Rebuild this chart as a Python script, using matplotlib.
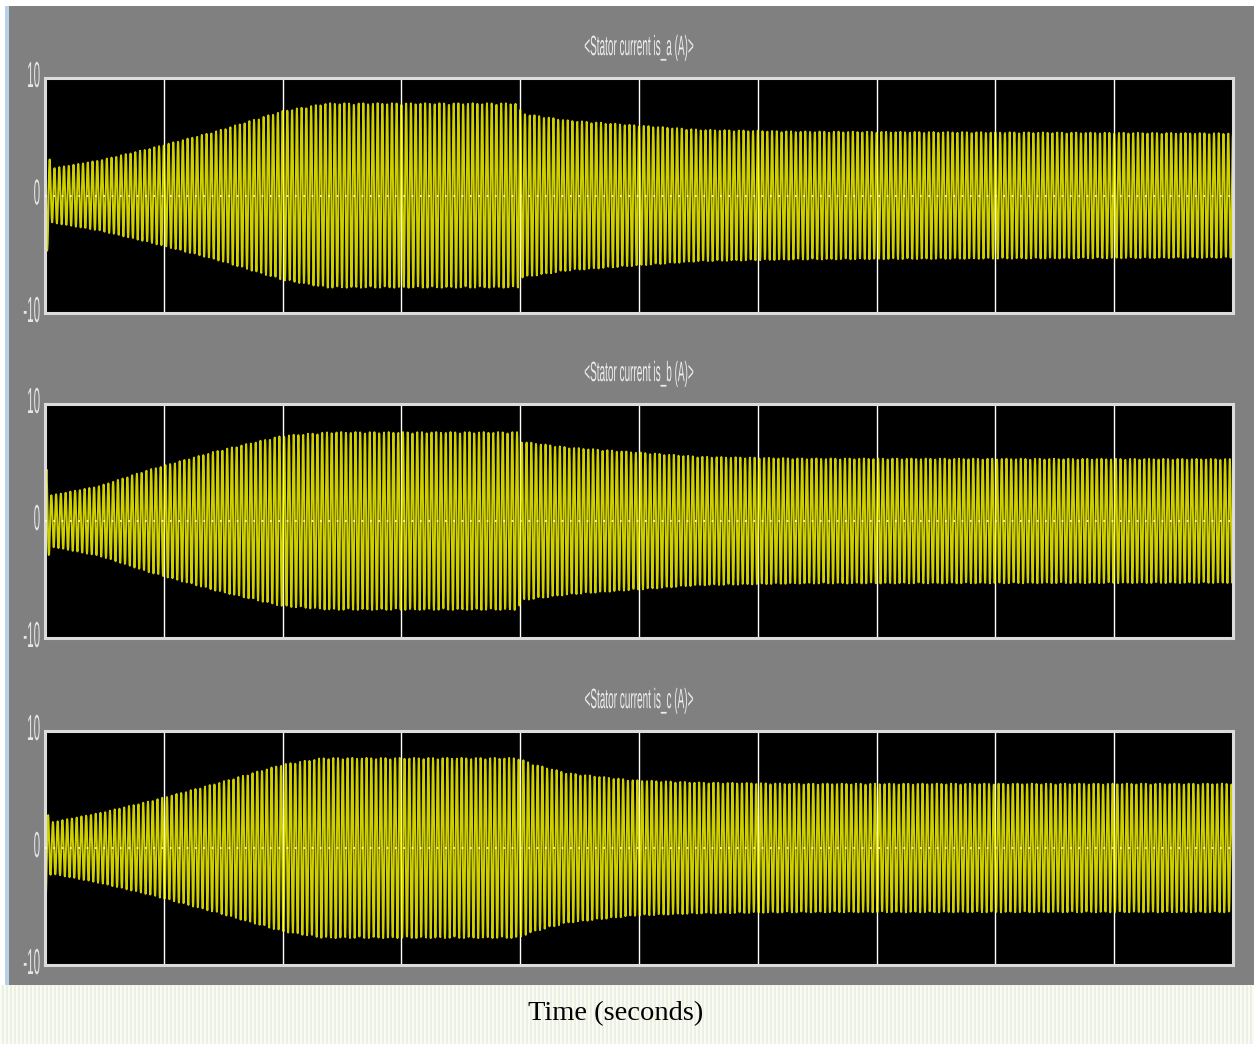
import matplotlib
matplotlib.use("Agg")
import matplotlib.pyplot as plt
import matplotlib.patheffects as pe
import numpy as np
from matplotlib.patches import Rectangle
from matplotlib.transforms import Affine2D

# Scope settings
T_END = 5.0
F_SUPPLY = 50.0
DT = 1 / (F_SUPPLY * 16.3)   # decimated scope samples

# Envelope of each stator current (s, A)
env_t_a = [0.0, 0.01, 0.025, 0.23, 0.44, 0.725, 1.0, 1.185, 1.99, 2.005, 2.2, 2.475, 2.755, 3.18, 5.0]
env_a = [9.5, 4.5, 2.3, 3.0, 4.0, 5.5, 7.2, 7.85, 7.85, 7.0, 6.4, 6.0, 5.6, 5.45, 5.3]

env_t_b = [0.0, 0.01, 0.025, 0.23, 0.44, 0.725, 1.0, 1.2, 1.99, 2.005, 2.2, 2.475, 2.755, 3.18, 5.0]
env_b = [6.0, 3.5, 2.2, 3.0, 4.4, 6.0, 7.3, 7.6, 7.6, 6.8, 6.3, 5.9, 5.5, 5.35, 5.3]

env_t_c = [0.0, 0.01, 0.025, 0.23, 0.44, 0.725, 1.0, 1.17, 1.99, 2.05, 2.2, 2.475, 2.755, 3.18, 5.0]
env_c = [5.0, 3.0, 2.2, 3.0, 4.0, 5.55, 7.15, 7.7, 7.7, 7.2, 6.4, 5.8, 5.6, 5.5, 5.5]

titles = ["<Stator current is_a (A)>", "<Stator current is_b (A)>", "<Stator current is_c (A)>"]
phases = [0.0, -2 * np.pi / 3, 2 * np.pi / 3]
y_ticks = [-10, 0, 10]
y_ticklabels = ["-10", "0", "10"]

SCOPE_FONT = "Liberation Sans"


class Stretch(pe.AbstractPathEffect):
    """Stretch glyphs vertically about their baseline (tall scope lettering)."""

    def __init__(self, sy):
        super().__init__()
        self.sy = sy

    def draw_path(self, renderer, gc, tpath, affine, rgbFace=None):
        renderer.draw_path(gc, tpath, Affine2D().scale(1, self.sy) + affine, rgbFace)


W, H = 1254, 1044
fig = plt.figure(figsize=(W / 100, H / 100), dpi=100)
fig.patch.set_facecolor("white")

# scope window background and left border
fig.patches.append(Rectangle((9 / W, (H - 985) / H), (W - 9) / W, 979 / H,
                             transform=fig.transFigure, facecolor="#808080",
                             edgecolor="none", zorder=-2))
fig.patches.append(Rectangle((5 / W, (H - 985) / H), 4 / W, 979 / H,
                             transform=fig.transFigure, facecolor="#b7d1ea",
                             edgecolor="none", zorder=-2))

# striped page strip under the scope
strip = fig.add_axes([0, 0, 1, (H - 985) / H])
cols = np.array([[0.984, 0.988, 0.968], [0.984, 0.988, 0.968],
                 [0.925, 0.945, 0.880], [0.925, 0.945, 0.880]])
stripes = np.tile(cols, (W // 4 + 1, 1))[:W]
strip.imshow(stripes[np.newaxis, :, :], aspect="auto", interpolation="nearest")
strip.set_axis_off()

t = np.arange(0, T_END + DT, DT)
envelopes = [(env_t_a, env_a), (env_t_b, env_b), (env_t_c, env_c)]
axes_px = [(78, 313), (404, 638), (731, 965)]

for (top, bottom), (et, ev), ph, title in zip(axes_px, envelopes, phases, titles):
    ax = fig.add_axes([45 / W, (H - bottom) / H, 1188 / W, (bottom - top) / H])
    ax.set_facecolor("black")

    amp = np.interp(t, et, ev)
    current = amp * np.cos(2 * np.pi * F_SUPPLY * t + ph)
    ax.plot(t, current, color="#ffff00", linewidth=1.4, alpha=0.82, zorder=2)

    ax.set_xlim(0, T_END)
    ax.set_ylim(-10, 10)
    ax.set_xticks(np.linspace(0, T_END, 11))
    ax.set_xticklabels([])
    ax.grid(axis="x", color="white", linewidth=1.0, zorder=1)
    ax.axhline(0, color="white", linewidth=1.2, linestyle=(0, (1, 4)), zorder=3)
    ax.set_axisbelow(True)

    ax.set_yticks(y_ticks)
    ax.set_yticklabels(y_ticklabels, family=SCOPE_FONT, fontsize=8.4, color="#e6e6e6")
    ax.tick_params(length=0, pad=3.5)
    for lab in ax.get_yticklabels():
        lab.set_verticalalignment("top")
        lab.set_path_effects([Stretch(3.1)])

    for side in ax.spines.values():
        side.set_color("#dcdcdc")
        side.set_linewidth(2.2)

    ttl = ax.set_title(title, family=SCOPE_FONT, fontsize=7.2, color="#ececec", pad=16.5)
    ttl.set_path_effects([Stretch(2.8)])

fig.text(616 / W, (H - 1020) / H, "Time (seconds)", family="Liberation Serif",
         fontsize=20.5, color="black", ha="center", va="baseline")

fig.savefig("out.png", dpi=100, facecolor=fig.get_facecolor())
